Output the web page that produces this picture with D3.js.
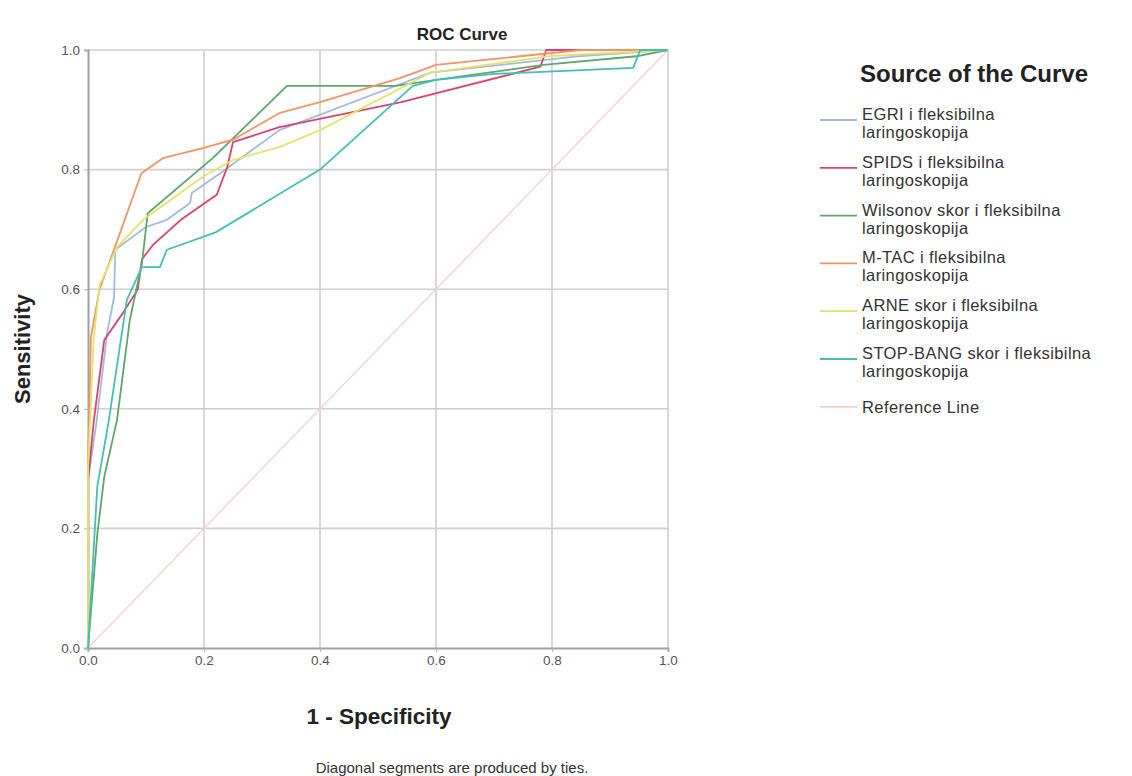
<!DOCTYPE html>
<html><head><meta charset="utf-8">
<script src="https://cdn.jsdelivr.net/npm/d3@7"></script>
<style>body{margin:0;background:#fff;} svg{display:block;font-family:"Liberation Sans",Arial,sans-serif;}</style>
</head><body><svg id="c" width="1132" height="776"></svg>
<script>
// ---- data ----
const chartTitle = "ROC Curve";
const xLabel = "1 - Specificity";
const yLabel = "Sensitivity";
const footnote = "Diagonal segments are produced by ties.";
const legendTitle = "Source of the Curve";
const xTicks = [0, 0.2, 0.4, 0.6, 0.8, 1.0];
const yTicks = [0, 0.2, 0.4, 0.6, 0.8, 1.0];
const seriesNames = ["EGRI", "SPIDS", "Wilsonov", "M-TAC", "ARNE", "STOP-BANG", "Reference"];
const legendLabels = [
  ["EGRI i fleksibilna", "laringoskopija"],
  ["SPIDS i fleksibilna", "laringoskopija"],
  ["Wilsonov skor i fleksibilna", "laringoskopija"],
  ["M-TAC i fleksibilna", "laringoskopija"],
  ["ARNE skor i fleksibilna", "laringoskopija"],
  ["STOP-BANG skor i fleksibilna", "laringoskopija"],
  ["Reference Line"]
];
const colors = ["#a3b9df", "#d8436c", "#5ea66c", "#f09466", "#e2e46a", "#43bfb5", "#f4cccc"];

const egriFpr = [0, 0, 0.015, 0.033, 0.045, 0.047, 0.1, 0.136, 0.176, 0.179, 0.228, 0.33, 0.59, 0.85, 1];
const egriTpr = [0, 0.28, 0.38, 0.527, 0.587, 0.666, 0.704, 0.716, 0.744, 0.761, 0.794, 0.866, 0.962, 0.99, 1];
const spidsFpr = [0, 0, 0.01, 0.028, 0.06, 0.086, 0.093, 0.112, 0.16, 0.222, 0.24, 0.25, 0.33, 0.54, 0.78, 0.79, 1];
const spidsTpr = [0, 0.28, 0.38, 0.515, 0.56, 0.6, 0.65, 0.674, 0.716, 0.758, 0.804, 0.846, 0.871, 0.913, 0.972, 1, 1];
const wilsonFpr = [0, 0.016, 0.028, 0.05, 0.072, 0.093, 0.103, 0.216, 0.343, 0.53, 0.6, 0.785, 0.95, 1];
const wilsonTpr = [0, 0.19, 0.286, 0.381, 0.548, 0.643, 0.727, 0.82, 0.94, 0.94, 0.95, 0.975, 0.99, 1];
const mtacFpr = [0, 0, 0.005, 0.02, 0.05, 0.092, 0.129, 0.198, 0.25, 0.331, 0.4, 0.538, 0.6, 0.7, 0.85, 1];
const mtacTpr = [0, 0.3, 0.52, 0.6, 0.68, 0.794, 0.819, 0.836, 0.85, 0.895, 0.913, 0.953, 0.975, 0.985, 1, 1];
const arneFpr = [0, 0, 0.01, 0.02, 0.038, 0.05, 0.095, 0.198, 0.25, 0.331, 0.4, 0.59, 0.8, 1];
const arneTpr = [0, 0.3, 0.52, 0.607, 0.645, 0.67, 0.716, 0.788, 0.816, 0.838, 0.866, 0.962, 0.99, 1];
const stopFpr = [0, 0.016, 0.036, 0.067, 0.093, 0.124, 0.136, 0.22, 0.4, 0.56, 0.6, 0.7, 0.94, 0.952, 1];
const stopTpr = [0, 0.27, 0.381, 0.582, 0.637, 0.637, 0.666, 0.695, 0.8, 0.94, 0.95, 0.96, 0.97, 1, 1];
const refFpr = [0, 1];
const refTpr = [0, 1];

const fprs = [egriFpr, spidsFpr, wilsonFpr, mtacFpr, arneFpr, stopFpr, refFpr];
const tprs = [egriTpr, spidsTpr, wilsonTpr, mtacTpr, arneTpr, stopTpr, refTpr];

// ---- drawing ----
const svg = d3.select("#c");
const x = d3.scaleLinear().domain([0, 1]).range([88, 668]);
const y = d3.scaleLinear().domain([0, 1]).range([648, 50]);

// gridlines
svg.append("g").selectAll("line").data(xTicks.slice(1)).join("line")
  .attr("x1", d => x(d)).attr("x2", d => x(d)).attr("y1", y(0)).attr("y2", y(1))
  .attr("stroke", "#cfcfcf").attr("stroke-width", 1.6);
svg.append("g").selectAll("line").data(yTicks.slice(1)).join("line")
  .attr("x1", x(0)).attr("x2", x(1)).attr("y1", d => y(d)).attr("y2", d => y(d))
  .attr("stroke", "#cfcfcf").attr("stroke-width", 1.6);

// axes
const xAxis = svg.append("g").attr("transform", `translate(0,${y(0)})`)
  .call(d3.axisBottom(x).tickValues(xTicks).tickFormat(d3.format(".1f")).tickSize(4).tickPadding(3));
const yAxis = svg.append("g").attr("transform", `translate(${x(0)},0)`)
  .call(d3.axisLeft(y).tickValues(yTicks).tickFormat(d3.format(".1f")).tickSize(4).tickPadding(4));
[xAxis, yAxis].forEach(a => {
  a.select(".domain").attr("stroke", "#a0a0a0").attr("stroke-width", 2);
  a.selectAll(".tick line").attr("stroke", "#b0b0b0");
  a.selectAll(".tick text").attr("fill", "#555").attr("font-size", 13.5)
    .attr("font-family", "'Liberation Sans',Arial,sans-serif");
});

// curves
const line = d3.line().x(d => x(d[0])).y(d => y(d[1]));
const order = [6, 0, 1, 2, 3, 4, 5];
order.forEach(i => {
  const pts = fprs[i].map((f, k) => [f, tprs[i][k]]);
  svg.append("path").datum(pts).attr("d", line)
    .attr("fill", "none").attr("stroke", colors[i]).attr("stroke-width", i === 6 ? 1.2 : 1.8)
    .attr("stroke-linejoin", "round");
});

// titles
svg.append("text").attr("x", 462).attr("y", 40).attr("text-anchor", "middle")
  .attr("font-size", 17).attr("font-weight", "bold").attr("fill", "#222").text(chartTitle);
svg.append("text").attr("x", 379).attr("y", 724).attr("text-anchor", "middle")
  .attr("font-size", 22.5).attr("font-weight", "bold").attr("fill", "#222").text(xLabel);
svg.append("text").attr("transform", "translate(30,349) rotate(-90)").attr("text-anchor", "middle")
  .attr("font-size", 22).attr("font-weight", "bold").attr("fill", "#222").text(yLabel);
svg.append("text").attr("x", 452).attr("y", 773).attr("text-anchor", "middle")
  .attr("font-size", 15).attr("fill", "#333").text(footnote);

// legend
svg.append("text").attr("x", 860).attr("y", 82).attr("font-size", 24).attr("font-weight", "bold")
  .attr("fill", "#222").text(legendTitle);
const lg = svg.append("g");
legendLabels.forEach((lines, i) => {
  const by = 120 + i * 47.8;
  lg.append("line").attr("x1", 820).attr("x2", 857).attr("y1", by).attr("y2", by)
    .attr("stroke", colors[i]).attr("stroke-width", 1.8);
  lines.forEach((t, j) => {
    lg.append("text").attr("x", 862).attr("y", by + (i === 6 ? 6 : 0) + j * 18)
      .attr("font-size", 16.5).attr("letter-spacing", 0.4).attr("fill", "#333").text(t);
  });
});
</script></body></html>
